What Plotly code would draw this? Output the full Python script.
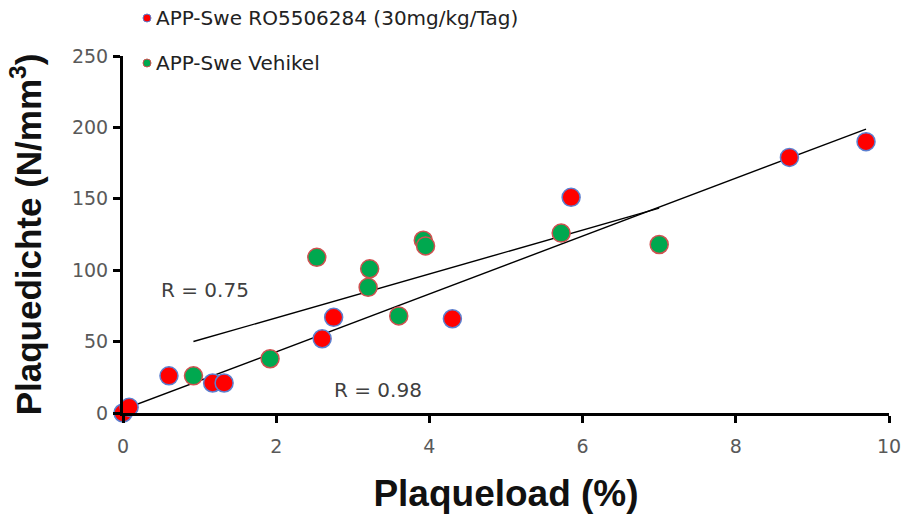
import numpy as np
import plotly.graph_objects as go

# Data: Plaqueload (%) vs Plaquedichte (N/mm^3)
ro_x = [0.0, 0.08, 0.6, 1.17, 1.32, 2.6, 2.75, 4.3, 5.85, 8.7, 9.7]
ro_y = [0, 4, 26, 21, 21, 52, 67, 66, 151, 179, 190]
veh_x = [0.92, 1.92, 2.53, 3.2, 3.22, 3.6, 3.92, 3.95, 5.72, 7.0]
veh_y = [26, 38, 109, 88, 101, 68, 121, 117, 126, 118]

ro_name = "APP-Swe RO5506284 (30mg/kg/Tag)"
veh_name = "APP-Swe Vehikel"
r_labels = ["R = 0.75", "R = 0.98"]

RED, RED_EDGE = "#FF0000", "#5B7FD0"
GREEN, GREEN_EDGE = "#00A84F", "#D05050"

# plot area in pixels
L, R, T, B = 123, 17, 56, 106
W, H = 906, 519
PW, PH = W - L - R, H - T - B

fig = go.Figure()

# trend lines (least-squares fits)
for xs, ys in [(ro_x, ro_y), (veh_x, veh_y)]:
    m, b = np.polyfit(xs, ys, 1)
    x0, x1 = min(xs), max(xs)
    fig.add_trace(go.Scatter(x=[x0, x1], y=[m * x0 + b, m * x1 + b], mode="lines",
                             line=dict(color="black", width=1.4), showlegend=False,
                             hoverinfo="skip", cliponaxis=False))

fig.add_trace(go.Scatter(x=ro_x, y=ro_y, mode="markers", name=ro_name, cliponaxis=False,
                         marker=dict(size=18, color=RED, line=dict(color=RED_EDGE, width=1.5)),
                         showlegend=False))
fig.add_trace(go.Scatter(x=veh_x, y=veh_y, mode="markers", name=veh_name, cliponaxis=False,
                         marker=dict(size=18, color=GREEN, line=dict(color=GREEN_EDGE, width=1.5)),
                         showlegend=False))

tickfont = dict(family="DejaVu Sans, sans-serif", size=19, color="#595959")
fig.update_layout(
    width=W, height=H,
    margin=dict(l=L, r=R, t=T, b=B, autoexpand=False),
    paper_bgcolor="white", plot_bgcolor="white",
    font=dict(family="Liberation Sans, Arial, sans-serif", color="#222"),
    xaxis=dict(range=[0, 10], dtick=2, showgrid=False, zeroline=False, automargin=False,
               showline=True, linecolor="black", linewidth=3,
               ticks="outside", ticklen=7, tickwidth=2.5, tickcolor="black",
               ticklabelstandoff=7, tickfont=tickfont,
               title=dict(text="<b>Plaqueload (%)</b>", standoff=25,
                          font=dict(family="Liberation Sans, sans-serif", size=37, color="#111"))),
    yaxis=dict(range=[0, 250], dtick=50, showgrid=False, zeroline=False, automargin=False,
               showline=True, linecolor="black", linewidth=3,
               ticks="outside", ticklen=7, tickwidth=2.5, tickcolor="black",
               ticklabelstandoff=1, tickfont=tickfont,
               title=dict(text="<b>Plaquedichte (N/mm<sup>3</sup>)</b>", standoff=20,
                          font=dict(family="Liberation Sans, sans-serif", size=35, color="#111"))),
    showlegend=False,
)

# legend-like entries at top (dot shapes + text)
for name, col, edge, py in [(ro_name, RED, RED_EDGE, 18), (veh_name, GREEN, GREEN_EDGE, 63)]:
    xp = (147 - L) / PW
    yp = 1 + (T - py) / PH
    fig.add_shape(type="circle", xref="paper", yref="paper", xsizemode="pixel", ysizemode="pixel",
                  xanchor=xp, yanchor=yp, x0=-4, x1=4, y0=-4, y1=4,
                  fillcolor=col, line=dict(color=edge, width=1))
    fig.add_annotation(xref="paper", yref="paper", x=(154 - L) / PW, y=yp,
                       xanchor="left", yanchor="middle", showarrow=False, text=name,
                       font=dict(family="DejaVu Sans, sans-serif", size=20, color="#222"))

# R labels
fig.add_annotation(x=1.07, y=86, text=r_labels[0], showarrow=False,
                   font=dict(family="DejaVu Sans, sans-serif", size=20, color="#404040"))
fig.add_annotation(x=3.33, y=16, text=r_labels[1], showarrow=False,
                   font=dict(family="DejaVu Sans, sans-serif", size=20, color="#404040"))

fig.write_html("out.html")
